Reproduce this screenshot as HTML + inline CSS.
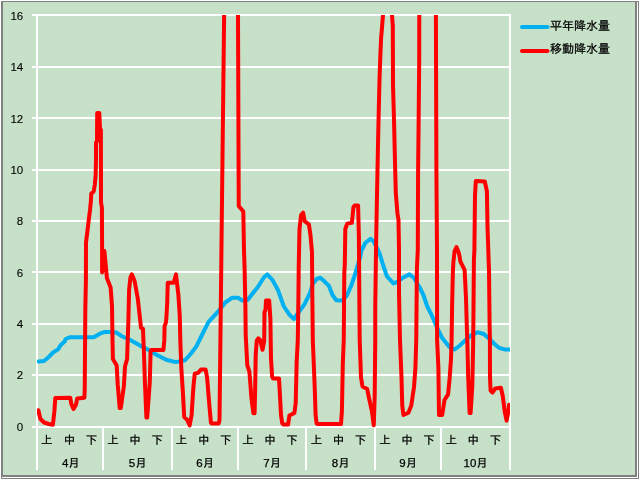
<!DOCTYPE html>
<html lang="ja">
<head>
<meta charset="utf-8">
<title>降水量</title>
<style>
html,body{margin:0;padding:0;background:#ffffff;}
body{width:640px;height:480px;overflow:hidden;position:relative;font-family:"Liberation Sans","Noto Sans CJK JP",sans-serif;}
</style>
</head>
<body>
<svg width="640" height="480" viewBox="0 0 640 480" style="position:absolute;left:0;top:0">
<defs><clipPath id="plot"><rect x="37" y="15" width="473" height="416"/></clipPath></defs>
<rect x="0" y="0" width="640" height="480" fill="#ffffff"/>
<rect x="1" y="1" width="638" height="478" fill="#808080"/>
<rect x="2" y="2" width="636" height="476" fill="#ffffff"/>
<rect x="2" y="2" width="635" height="475" fill="#808080"/>
<rect x="3" y="2" width="632" height="473" fill="#c7e0c8"/>
<g fill="#ffffff" shape-rendering="crispEdges">
<rect x="32" y="14" width="479" height="2"/>
<rect x="32" y="66" width="479" height="2"/>
<rect x="32" y="117" width="479" height="2"/>
<rect x="32" y="169" width="479" height="2"/>
<rect x="32" y="220" width="479" height="2"/>
<rect x="32" y="271" width="479" height="2"/>
<rect x="32" y="323" width="479" height="2"/>
<rect x="32" y="374" width="479" height="2"/>
<rect x="32" y="426" width="479" height="2"/>
<rect x="36" y="14" width="2" height="456"/>
<rect x="102" y="426" width="2" height="44"/>
<rect x="171" y="426" width="2" height="44"/>
<rect x="237" y="426" width="2" height="44"/>
<rect x="305" y="426" width="2" height="44"/>
<rect x="374" y="426" width="2" height="44"/>
<rect x="440" y="426" width="2" height="44"/>
<rect x="509" y="14" width="2" height="456"/>
</g>
<g clip-path="url(#plot)" fill="none" stroke-linejoin="round" stroke-linecap="round" stroke-width="4">
<polyline stroke="#00b0f0" points="38.4,361.5 44,361 48.75,357 53.4,352.2 58,349.4 61,344.7 64.7,341.5 65.6,339 70.3,337.2 93.75,337.2 100.3,333.4 105,332 110.6,332 116.25,332.5 121.9,336.25 129.4,339.5 140,345.6 147.5,349.4 156.9,355 166.25,359.7 175.6,362.1 185,360.25 190.6,354 196.25,346.6 200,339 208.4,322.2 217.8,311.9 225.3,302.5 231.9,297.8 238.4,297.8 242.2,300.6 247.8,299.7 254.4,291.25 257.5,287.5 264,277.2 267.25,274.4 272.5,280 278.1,290.3 283.75,306.25 289.4,314.7 294,319 296.9,314.7 304.4,304.4 310,293 312.8,283.75 316.6,279 320.3,277.75 324,281 328.75,285.6 332.5,295 336.25,300.25 341.9,300.6 346.6,296 351.25,285.6 355,274.5 357.8,265 360.6,255.6 361.25,251 365.2,243 370.6,238.75 373.75,241.5 379.4,253 383.1,265 386.9,276.25 393.4,283.4 397.2,282 403.75,277.2 409.4,274.4 414,278 419.7,287.5 423.4,295 427.2,306.25 431.9,315.6 437.5,328.75 442.2,338 445.2,341.7 449.4,346.9 454.6,349.5 459.8,345.5 466,339.6 471.25,335.4 477.5,332.3 483.75,334 489,338.5 494.2,343.75 499.4,348 504.6,349.4 509.4,349.4"/>
<polyline stroke="#ff0000" points="38.4,410.3 40.3,418.75 44,422.5 48.75,424 52.9,424.75 54.4,411.25 55.3,398 70.3,397.75 71.25,403.75 73.5,409 76,404.7 77.25,398.5 84.4,397.75 84.75,388.75 85.1,340 85.3,310 85.9,280 86,242.5 87.25,232.5 88.75,220 90,210 90.9,201 91.25,193.75 93.75,191.25 94.75,185 95.6,176 96,160 96,143 97,141 97.2,113 99.3,113 100,128 100.9,130 101,202.5 101.9,207.5 102.1,250 102.1,272.5 104.4,251 106.9,278 110.6,287.5 112,306 112.5,340 112.9,359 116.7,365.4 117.7,384.2 119.7,408 120.8,408 123.9,386 125,366.5 127.1,359 127.7,340 128.4,320 129.1,290 130.4,277.5 131.8,274.4 134.6,281 137.8,298.75 139.7,315.6 141,327.8 143,328.75 143.4,340 143.9,351 144.9,382 146.4,417.6 147.2,417.6 149.8,382 150.6,351.5 151.2,350 163.4,350 164.3,340.4 164.6,326 165.8,323 166.4,318 167.2,303 167.75,282.8 173.75,282.8 176,274.4 178.4,295 179.75,315.6 180.3,340 181.3,368 182.9,392.5 184.2,417 186.9,419.5 189.7,425.4 191.6,415 193.4,387 194.75,373.75 198.1,372.8 201,369.6 205.6,369.6 207.1,377.5 209.4,405.6 210.9,422.5 211.5,423.4 218.75,423.4 219.5,420 224.3,0"/>
<polyline stroke="#ff0000" points="238,0 238,15 238.75,206 243.3,211.5 244,250 244.6,268.75 245.4,306.25 245.7,335 247.3,365.4 249.4,371.7 251.5,398.75 253.4,413.3 254.6,413.3 255.1,392 255.7,355 256.8,340.4 258.3,338.3 260.2,340 262.5,349.8 264.2,341 264.5,312 265.5,310 266,300.6 269.2,300.6 270.4,319 270.7,340 271,358.75 272.1,376.5 273,378.4 279,378.4 280,396.25 281,415 282.25,423.4 283,424.4 288.1,424.6 289.4,415.6 294.4,413 295.7,403 296.7,361 297.8,340 298.4,298.75 298.75,265 299.5,229 301.1,215 303.1,212.7 304.7,221.25 308.9,224.4 310.5,235.3 312,252.5 312.25,287.5 312.8,340 314.7,387 315.6,415 316.6,423.4 317.5,424 341,424 341.9,411.25 342.8,364.4 343.75,340 344.3,272.5 344.8,265 345.3,229 347.2,223.6 351.9,222.8 353.4,207.2 354.7,205.6 358.1,205.6 358.9,236.9 359.3,295 359.7,340 361,377.5 362.5,386.5 367.2,389 369,398 371.9,411.25 373.75,425.3 374.7,396.25 375.25,340 375.25,308 376,250 376.9,200 378.1,140 379,100 379.5,80 380.3,57 381.1,38 381.9,28.75 383,15 384,0"/>
<polyline stroke="#ff0000" points="391.5,0 392,15 392.8,25.6 393,85 394,120 395.2,170 395.8,193 397.5,213.75 398.5,220 399,249 399,293 400,340 401.5,377.5 402.25,405.6 403.4,415 408.4,412.75 411.25,405.6 414,387 415.4,368 416.25,340 416.9,268.75 417.8,250 418.1,170 418.6,125 419.2,60 419.3,0"/>
<polyline stroke="#ff0000" points="435.9,0 435.9,15 436.4,170 437,250 437.1,340 438.4,368 439,415 442.2,415 444.5,400 448.1,394.4 449.7,377.5 451,358.75 451.6,340 452.1,306 452.9,270.8 453.4,262 454.6,251 456.5,247 459,253.5 460.4,261.5 464.6,269.8 466,298 467,333 467.3,340 468.2,377.5 469.6,413 470.6,413 472.25,387 472.9,358 473.2,340 473.5,308 473.9,260 474.4,250 475,195.4 475.8,181 484.8,181.5 486.9,191.25 487.5,226.7 488.3,250 489,270.8 489.6,323 489.9,340 490,377.5 490.6,390.6 492.5,392.5 495.3,388.4 500.9,387.8 502.8,396.25 504.7,411.25 506.6,420.6 508.4,411.25 509,404.7"/>
</g>
<g fill="none" stroke-linecap="round" stroke-width="4">
<line x1="522" y1="27" x2="547.5" y2="27" stroke="#00b0f0"/>
<line x1="522" y1="51" x2="547.5" y2="51" stroke="#ff0000"/>
</g>
<g font-family="'Liberation Sans', 'IPAGothic', 'Noto Sans CJK JP', sans-serif" font-size="11.5px" fill="#000000" stroke="#000000" stroke-width="0.25">
<text x="23.2" y="20" text-anchor="end" stroke-width="0.1">16</text>
<text x="23.2" y="70.8" text-anchor="end" stroke-width="0.1">14</text>
<text x="23.2" y="123" text-anchor="end" stroke-width="0.1">12</text>
<text x="23.2" y="173.8" text-anchor="end" stroke-width="0.1">10</text>
<text x="23.2" y="225" text-anchor="end" stroke-width="0.1">8</text>
<text x="23.2" y="277" text-anchor="end" stroke-width="0.1">6</text>
<text x="23.2" y="328" text-anchor="end" stroke-width="0.1">4</text>
<text x="23.2" y="378.8" text-anchor="end" stroke-width="0.1">2</text>
<text x="23.2" y="430.8" text-anchor="end" stroke-width="0.1">0</text>
<text x="46.7" y="444" text-anchor="middle">上</text>
<text x="69.4" y="444" text-anchor="middle">中</text>
<text x="91.5" y="444" text-anchor="middle">下</text>
<text x="70.9" y="466.5" text-anchor="middle">4月</text>
<text x="113.0" y="444" text-anchor="middle">上</text>
<text x="135.1" y="444" text-anchor="middle">中</text>
<text x="157.2" y="444" text-anchor="middle">下</text>
<text x="137.7" y="466.5" text-anchor="middle">5月</text>
<text x="181.6" y="444" text-anchor="middle">上</text>
<text x="203.7" y="444" text-anchor="middle">中</text>
<text x="225.8" y="444" text-anchor="middle">下</text>
<text x="205.2" y="466.5" text-anchor="middle">6月</text>
<text x="247.9" y="444" text-anchor="middle">上</text>
<text x="270.0" y="444" text-anchor="middle">中</text>
<text x="292.1" y="444" text-anchor="middle">下</text>
<text x="272.2" y="466.5" text-anchor="middle">7月</text>
<text x="316.4" y="444" text-anchor="middle">上</text>
<text x="338.5" y="444" text-anchor="middle">中</text>
<text x="360.6" y="444" text-anchor="middle">下</text>
<text x="340.7" y="466.5" text-anchor="middle">8月</text>
<text x="384.9" y="444" text-anchor="middle">上</text>
<text x="407.0" y="444" text-anchor="middle">中</text>
<text x="429.1" y="444" text-anchor="middle">下</text>
<text x="408.2" y="466.5" text-anchor="middle">9月</text>
<text x="451.2" y="444" text-anchor="middle">上</text>
<text x="473.3" y="444" text-anchor="middle">中</text>
<text x="495.4" y="444" text-anchor="middle">下</text>
<text x="475.7" y="466.5" text-anchor="middle">10月</text>
<text x="550" y="29.5" font-size="12px">平年降水量</text>
<text x="550" y="52.5" font-size="12px">移動降水量</text>
</g>
</svg>
</body>
</html>
